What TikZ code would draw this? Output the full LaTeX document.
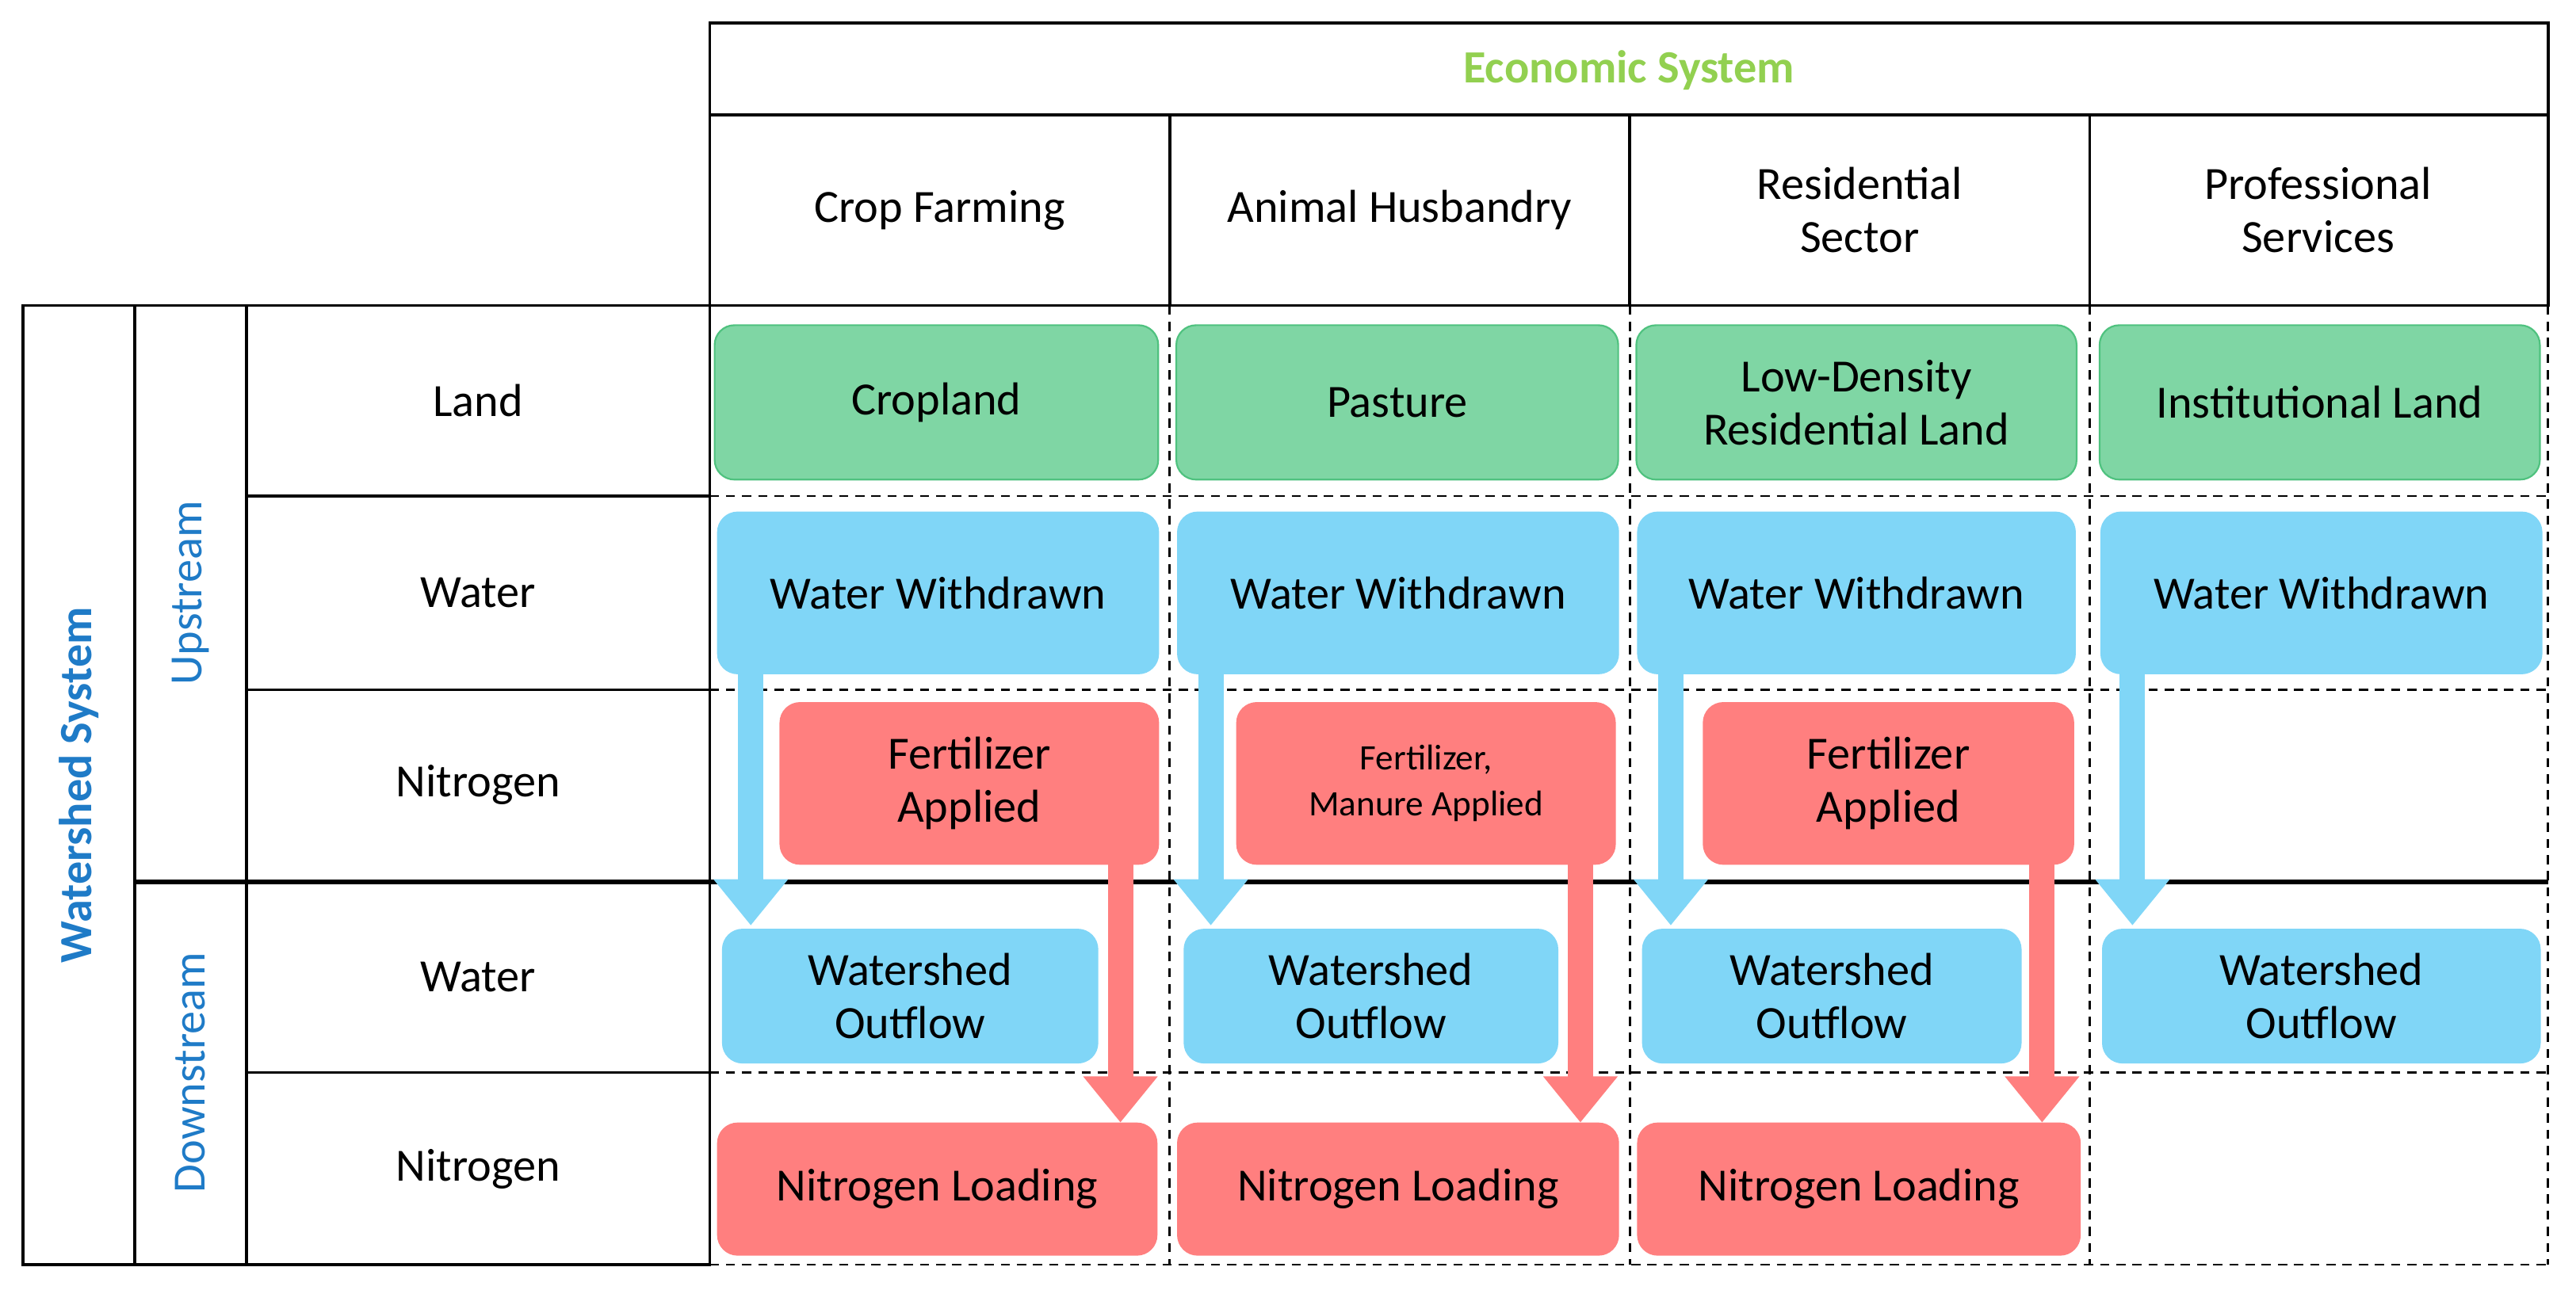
\documentclass[tikz,border=0pt]{standalone}
\usepackage{fontspec}
\setmainfont{Carlito}
\usetikzlibrary{arrows.meta,fit}
\begin{document}
\begin{tikzpicture}[x=0.05cm,y=-0.05cm,
  txt/.style={font=\fontsize{40}{46}\selectfont},
  bbase/.style={rounded corners=0.6cm,inner sep=0pt,align=center,txt,line width=1.5pt},
  gbox/.style={bbase,fill=green!45!cyan!30!white,fill=landfill,draw=landdraw},
  wbox/.style={bbase,fill=waterfill,draw=waterfill},
  nbox/.style={bbase,fill=nfill,draw=nfill},
  warr/.style={draw=waterfill,line width=22pt,-{Triangle[width=62pt,length=40pt]}},
  narr/.style={draw=nfill,line width=22pt,-{Triangle[width=62pt,length=40pt]}},
  solidl/.style={line width=2.5pt},
  dashl/.style={line width=2pt,dashed,dash pattern=on 8pt off 6pt}]
\definecolor{landfill}{HTML}{7FD6A4}
\definecolor{landdraw}{HTML}{4FC27F}
\definecolor{waterfill}{HTML}{80D6F7}
\definecolor{nfill}{HTML}{FF7F7F}
\definecolor{tblue}{HTML}{1F7BC7}
\definecolor{tgreen}{HTML}{92D050}
\useasboundingbox (0,0) rectangle (1568,785);
% header
\draw[solidl] (432,14) rectangle (1551,186);
\draw[solidl] (432,70) -- (1551,70);
\foreach \x in {712,992,1272} \draw[solidl] (\x,70) -- (\x,186);
\node[txt,text=tgreen,font=\fontsize{40}{46}\selectfont\bfseries] (econ) at (991.5,43) {Economic System};
\node[txt,align=center] (h1) at (572,128) {Crop Farming};
\node[txt,align=center] (h2) at (852,128) {Animal Husbandry};
\node[txt,align=center] (h3) at (1132,128) {Residential\\Sector};
\node[txt,align=center] (h4) at (1411,128) {Professional\\Services};
% left region
\draw[solidl] (14,186) rectangle (432,770);
\draw[solidl] (82,186) -- (82,770);
\draw[solidl] (150,186) -- (150,770);
\foreach \y in {302,420,653} \draw[solidl] (150,\y) -- (432,\y);
\node[rotate=90,text=tblue,font=\fontsize{40}{46}\selectfont\bfseries] (ws) at (48,478) {Watershed System};
\node[rotate=90,text=tblue,txt] (up) at (116,361) {Upstream};
\node[rotate=90,text=tblue,txt] (down) at (116,653) {Downstream};
\node[txt] (r1) at (291,244) {Land};
\node[txt] (r2) at (291,361) {Water};
\node[txt] (r3) at (291,478) {Nitrogen};
\node[txt] (r4) at (291,595) {Water};
\node[txt] (r5) at (291,712) {Nitrogen};
% grid dashed
\foreach \y in {302,420,653,770} \draw[dashl] (432,\y) -- (1551,\y);
\foreach \x in {712,992,1272,1551} \draw[dashl] (\x,186) -- (\x,770);
\draw[line width=4pt] (82,537) -- (1551,537);
% boxes
\node[gbox,fit={(435,198)(705,292)}] (l1) {};
\node[txt] at (l1) {Cropland};
\node[gbox,fit={(716,198)(985,292)}] (l2) {};
\node[txt] at (l2) {Pasture};
\node[gbox,fit={(996,198)(1264,292)}] (l3) {};
\node[txt,align=center] at (l3) {Low-Density\\Residential Land};
\node[gbox,fit={(1278,198)(1546,292)}] (l4) {};
\node[txt] at (l4) {Institutional Land};
\foreach \i/\a/\b in {1/437/705,2/717/985,3/997/1263,4/1279/1547}{
  \node[wbox,fit={(\a,312)(\b,410)}] (w\i) {};
  \node[txt] at (w\i) {Water Withdrawn};
}
\node[nbox,fit={(475,428)(705,526)}] (f1) {};
\node[txt,align=center] at (f1) {Fertilizer\\Applied};
\node[nbox,fit={(753,428)(983,526)}] (f2) {};
\node[align=center,font=\fontsize{31}{40}\selectfont] at (f2) {Fertilizer,\\Manure Applied};
\node[nbox,fit={(1037,428)(1262,526)}] (f3) {};
\node[txt,align=center] at (f3) {Fertilizer\\Applied};
\foreach \i/\a/\b in {1/440/668,2/721/948,3/1000/1230,4/1280/1546}{
  \node[wbox,fit={(\a,566)(\b,647)}] (o\i) {};
  \node[txt,align=center] at (o\i) {Watershed\\Outflow};
}
\foreach \i/\a/\b in {1/437/704,2/717/985,3/997/1266}{
  \node[nbox,fit={(\a,684)(\b,764)}] (n\i) {};
  \node[txt] at (n\i) {Nitrogen Loading};
}
% arrows
\foreach \i/\x in {1/457,2/737,3/1017,4/1298}{
  \coordinate (bx\i) at (\x,0);
  \draw[warr] (w\i.south -| bx\i) -- ([yshift=0.1cm]o\i.north -| bx\i);
}
\foreach \i/\x in {1/682,2/962,3/1243}{
  \coordinate (rx\i) at (\x,0);
  \draw[narr] (f\i.south -| rx\i) -- (n\i.north -| rx\i);
}
\end{tikzpicture}
\end{document}
